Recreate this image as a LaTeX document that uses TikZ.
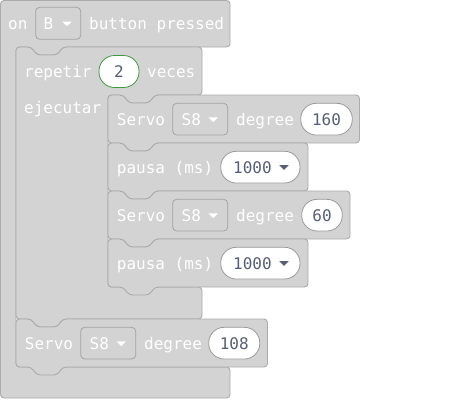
\documentclass[tikz,border=0pt]{standalone}
\usepackage{fontspec}
\setmainfont{DejaVu Sans Mono}
\definecolor{blk}{HTML}{D3D3D3}
\definecolor{blkline}{HTML}{ABABAB}
\definecolor{ddline}{HTML}{A3A3A3}
\definecolor{numtext}{HTML}{575E75}
\definecolor{pillline}{HTML}{9A9A9A}
\definecolor{greenline}{HTML}{3E9A3E}
\newcommand\stmtblock[4]{%
  \draw[blockshape] (#1,#2) -- ({#1+15},#2) -- ({#1+21},{#2+8}) -- ({#1+41},{#2+8}) -- ({#1+47},#2)
    -- (#3,#2) -- (#3,#4) -- ({#1+47},#4) -- ({#1+41},{#4+8}) -- ({#1+21},{#4+8}) -- ({#1+15},#4)
    -- (#1,#4) -- cycle;}
\begin{document}
\begin{tikzpicture}[x=1pt,y=-1pt,
  blockshape/.style={fill=blk, draw=blkline, line width=0.9pt, rounded corners=3.5pt, line join=round},
  lbl/.style={anchor=base west, inner sep=0pt, text=white, font=\fontsize{16}{16}\selectfont},
  num/.style={anchor=base, inner sep=0pt, text=numtext, font=\fontsize{16}{16}\selectfont},
  numw/.style={anchor=base west, inner sep=0pt, text=numtext, font=\fontsize{16}{16}\selectfont},
  dd/.style={draw=ddline, line width=0.8pt, rounded corners=4pt, fill=blk},
  pill/.style={draw=pillline, line width=0.8pt, fill=white, rounded corners=15.5pt},
  tri/.style={fill=white, draw=none},
  tridark/.style={fill=numtext, draw=none}]
\useasboundingbox (0,0) rectangle (464,400);

% hat block (on B button pressed)
\draw[blockshape] (0.5,0.5) -- (230,0.5) -- (230,47) -- (63,47) -- (57,55) -- (37,55) -- (31,47)
  -- (16,47) -- (16,367) -- (230,367) -- (230,398) -- (0.5,398) -- cycle;
\node[lbl] (on) at (8,29.5) {on};
\draw[dd] (35.7,7.3) rectangle (80.7,39.3);
\node[lbl] (btnB) at (43.5,29.5) {B};
\fill[tri] (62,21.5) -- (72,21.5) -- (67,26.2) -- cycle;
\node[lbl] (pressed) at (89,29.5) {button pressed};

% repeat block
\draw[blockshape] (16,47) -- (31,47) -- (37,55) -- (57,55) -- (63,47) -- (202,47) -- (202,95)
  -- (155,95) -- (149,103) -- (129,103) -- (123,95) -- (108,95) -- (108,287) -- (202,287)
  -- (202,319) -- (63,319) -- (57,327) -- (37,327) -- (31,319) -- (16,319) -- cycle;
\node[lbl] (repetir) at (24,77.5) {repetir};
\draw[pill, draw=greenline] (99,55.5) rectangle (139,87.5);
\node[num] (times) at (119,77.5) {2};
\node[lbl] (veces) at (147,77.5) {veces};
\node[lbl] (ejecutar) at (24,113.3) {ejecutar};

% block 1: Servo S8 degree 160
\stmtblock{108}{95}{359.5}{143}
\node[lbl] (servoA) at (116.7,125) {Servo};
\draw[dd] (172.7,103.3) rectangle (227.7,135);
\node[lbl] (sA) at (181.5,125) {S8};
\fill[tri] (208.5,117.3) -- (218,117.3) -- (213.25,122) -- cycle;
\node[lbl] (degA) at (236,125) {degree};
\draw[pill] (300.7,103.3) rectangle (352.3,135);
\node[num] (valA) at (326.5,125) {160};

% block 2: pausa (ms) 1000
\stmtblock{108}{143}{308}{191}
\node[lbl] (pausaA) at (116.7,173) {pausa (ms)};
\draw[pill] (220.7,151.3) rectangle (300,183);
\node[numw] (msA) at (233,173) {1000};
\fill[tridark] (279.3,165.2) -- (288.7,165.2) -- (284,170) -- cycle;

% block 3: Servo S8 degree 60
\stmtblock{108}{191}{350}{239}
\node[lbl] (servoB) at (116.7,221) {Servo};
\draw[dd] (172.7,199.3) rectangle (227.7,231);
\node[lbl] (sB) at (181.5,221) {S8};
\fill[tri] (208.5,213.3) -- (218,213.3) -- (213.25,218) -- cycle;
\node[lbl] (degB) at (236,221) {degree};
\draw[pill] (301.7,199.3) rectangle (342.3,231);
\node[num] (valB) at (322,221) {60};

% block 4: pausa (ms) 1000
\stmtblock{108}{239}{308}{287}
\node[lbl] (pausaB) at (116.7,269) {pausa (ms)};
\draw[pill] (220.7,247.3) rectangle (300,279);
\node[numw] (msB) at (233,269) {1000};
\fill[tridark] (279.3,261.2) -- (288.7,261.2) -- (284,266) -- cycle;

% block 5: Servo S8 degree 108
\stmtblock{16}{319}{267.5}{367}
\node[lbl] (servoC) at (24.7,349) {Servo};
\draw[dd] (80.7,327.3) rectangle (135.7,359);
\node[lbl] (sC) at (89.5,349) {S8};
\fill[tri] (116.5,341.3) -- (126,341.3) -- (121.25,346) -- cycle;
\node[lbl] (degC) at (144,349) {degree};
\draw[pill] (208.7,327.3) rectangle (259.8,359);
\node[num] (valC) at (234.2,349) {108};
\end{tikzpicture}
\end{document}
